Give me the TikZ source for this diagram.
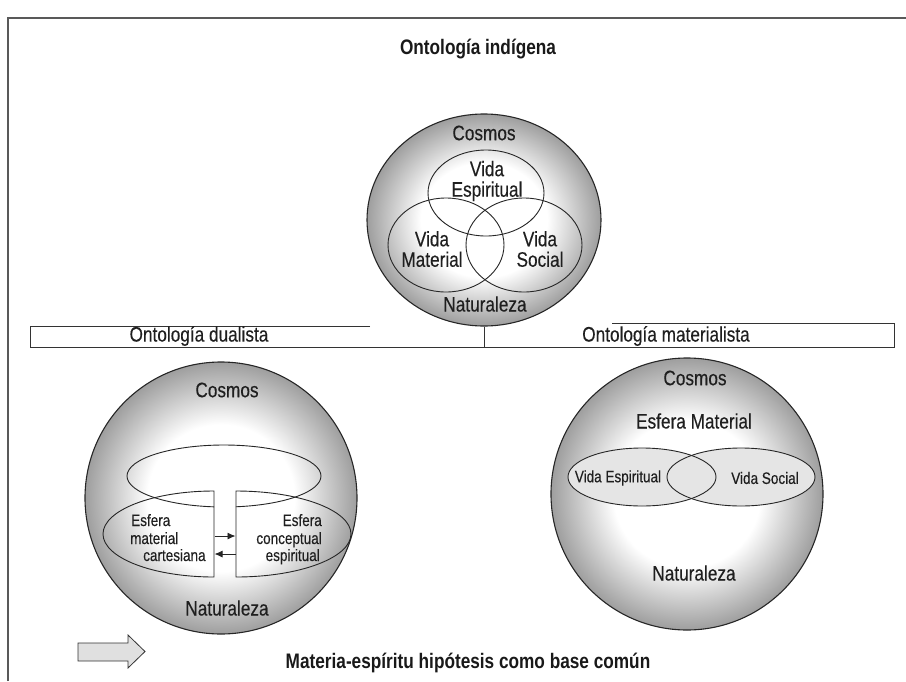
\documentclass[tikz,border=0pt]{standalone}
\usepackage{fontspec}
\setmainfont{Liberation Sans}[FakeStretch=0.82]
\newfontfamily\lblfont{Liberation Sans}[FakeStretch=0.82, FakeBold=0.25]
\usetikzlibrary{shapes.geometric,arrows.meta}

% white core fading to grey at the rim of each sphere
\pgfdeclareradialshading{sphere}{\pgfpoint{0bp}{0bp}}{%
  color(0bp)=(white); color(13.5bp)=(white); color(25bp)=(black!38); color(50bp)=(black!38)}

\begin{document}
\begin{tikzpicture}[x=1pt,y=-1pt,
  ball/.style={ellipse, draw=black!85, line width=1.1pt, shading=sphere, inner sep=0pt},
  ring/.style={ellipse, draw=black!85, line width=0.9pt, inner sep=0pt},
  lens/.style={ellipse, inner sep=0pt, minimum width=148pt, minimum height=58pt},
  outline/.style={draw=black!85, line width=0.9pt},
  frameline/.style={draw=black!65, line width=1.6pt},
  barline/.style={draw=black!80, line width=1pt},
  lbl/.style={text=black!88, inner sep=0pt, font=\lblfont\fontsize{21}{20.5}\selectfont, align=center},
  small/.style={text=black!88, inner sep=0pt, font=\lblfont\fontsize{16.5}{16}\selectfont},
  mid/.style={text=black!88, inner sep=0pt, font=\lblfont\fontsize{16.5}{18}\selectfont},
  ttl/.style={text=black!90, inner sep=0pt, font=\fontsize{21}{22}\selectfont\bfseries},
  tip/.style={-{Latex[length=8pt,width=7pt]}, draw=black!85, line width=0.9pt}]

\useasboundingbox (0,0) rectangle (906,681);

% outer frame (left and top edges)
\draw[frameline] (8,681) -- (8,18) -- (906,18);

% ---------- indigenous ontology ----------
\node[ttl] (title) at (478,49) {Ontología indígena};

\node[ball, minimum width=234pt, minimum height=212pt] (topball) at (484,220) {};
\node[ring, minimum width=116pt, minimum height=86pt] (espir) at (486,193) {};
\node[ring, minimum width=116pt, minimum height=94pt] (mater) at (446,245) {};
\node[ring, minimum width=116pt, minimum height=94pt] (socia) at (524,245) {};

\node[lbl] (cosmosA) at (484,133) {Cosmos};
\node[lbl] (espirT) at (487,181) {Vida\\Espiritual};
\node[lbl] (materT) at (432,249) {Vida\\Material};
\node[lbl] (sociaT) at (540,249) {Vida\\Social};
\node[lbl] (naturA) at (485,304) {Naturaleza};

% ---------- header bar ----------
\coordinate (barTL) at (370,326);
\coordinate (barLT) at (30,326);
\coordinate (barLB) at (30,347);
\coordinate (barRB) at (894,347);
\coordinate (barRT) at (894,323);
\coordinate (barTR) at (612,323);
\draw[barline] (barTL) -- (barLT) -- (barLB) -- (barRB) -- (barRT) -- (barTR);
\draw[barline] (topball.south) -- (topball.south |- barLB);

\node[lbl] (dualT) at (199,336) {Ontología dualista};
\node[lbl] (matT) at (666,336) {Ontología materialista};

% ---------- dualist ontology ----------
\node[ball, minimum size=272pt] (dualball) at (221,498) {};
\node[lbl] (cosmosB) at (227,390) {Cosmos};
\node[lbl] (naturB) at (227,608) {Naturaleza};

% upper ring, left open where the gap between the two spheres runs
\draw[outline] (214.03,506.84) arc[start angle=95.9, end angle=442.9, x radius=97, y radius=31];

% the two halves of the lower ring
\draw[outline] (214,577) arc[start angle=90, end angle=270, x radius=111, y radius=43] -- cycle;
\draw[outline] (236,491) arc[start angle=-90, end angle=90, x radius=115, y radius=43] -- cycle;

\coordinate (gapL1) at (214.5,536);
\coordinate (gapR1) at (235.5,536);
\coordinate (gapL2) at (214.5,554);
\coordinate (gapR2) at (235.5,554);
\draw[tip] (gapL1) -- (gapR1);
\draw[tip] (gapR2) -- (gapL2);

\node[small, anchor=base west] (cart1) at (131,526) {Esfera};
\node[small, anchor=base west] (cart2) at (130,544) {material};
\node[small, anchor=base west] (cart3) at (143,561) {cartesiana};
\node[small, anchor=base east] (conc1) at (322,526) {Esfera};
\node[small, anchor=base east] (conc2) at (322,544) {conceptual};
\node[small, anchor=base east] (conc3) at (320,561) {espiritual};

% ---------- materialist ontology ----------
\node[ball, minimum size=272pt] (matball) at (687,494) {};
\node[lbl] (cosmosC) at (695,378) {Cosmos};
\node[lbl] (esfmat) at (694,421) {Esfera Material};

\node[lens, fill=black!10] (espL) at (642,477) {};
\node[lens, fill=black!10] (socL) at (741,477) {};
\node[lens, outline] at (espL) {};
\node[lens, outline] at (socL) {};
\node[mid] (espLT) at (618,478) {Vida Espiritual};
\node[mid] (socLT) at (765,478) {Vida Social};
\node[lbl] (naturC) at (694,573) {Naturaleza};

% ---------- common base ----------
\draw[fill=black!12, draw=black!80, line width=0.8pt]
  (78,643) -- (128,643) -- (128,635) -- (145,651.5) -- (128,668) -- (128,661) -- (78,661) -- cycle;
\node[ttl] (base) at (468,663) {Materia-espíritu hipótesis como base común};

\end{tikzpicture}
\end{document}
